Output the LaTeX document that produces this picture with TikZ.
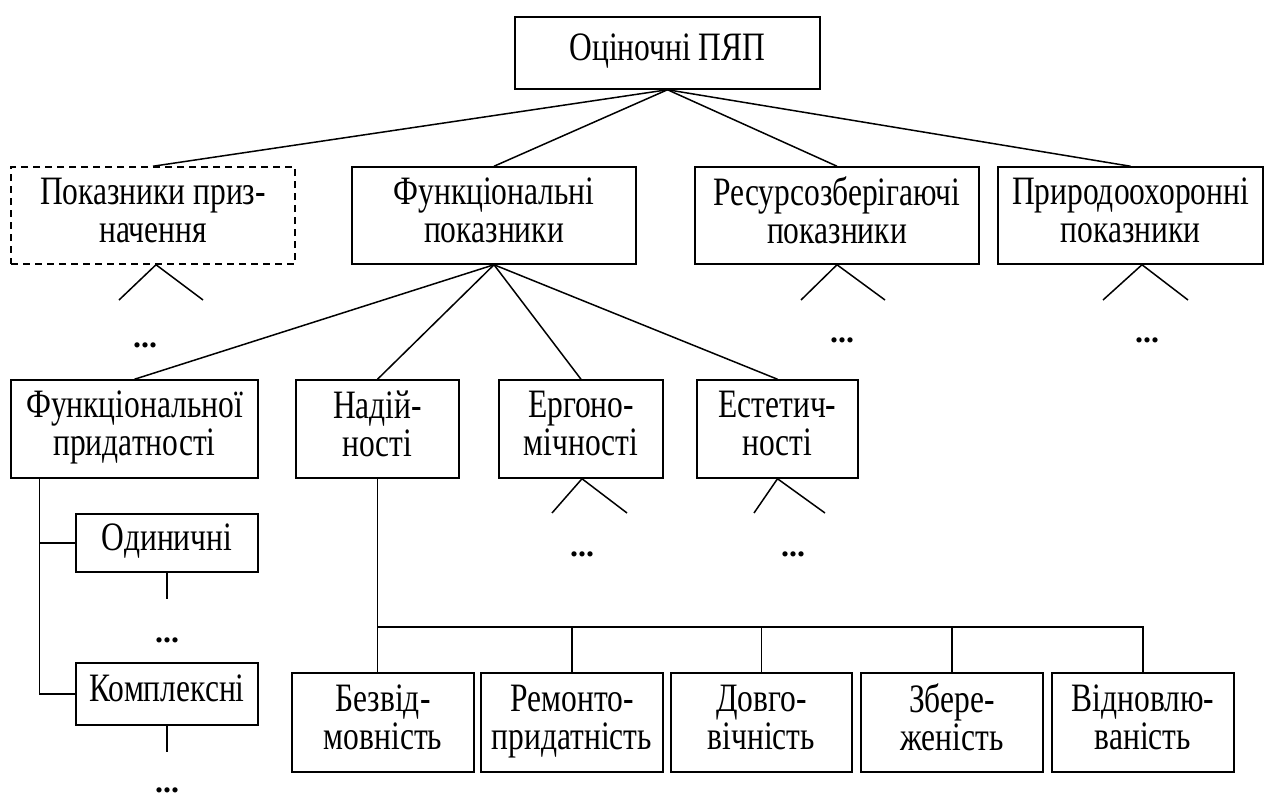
\documentclass[tikz,border=0pt]{standalone}
\usepackage{fontspec}
\usepackage{graphicx}
\setmainfont{Liberation Serif}
\newcommand\lbl[1]{\scalebox{1}[1.28]{\fontsize{31.5}{29.7}\selectfont\begin{tabular}{@{}c@{}}#1\end{tabular}}}
\begin{document}
\begin{tikzpicture}[x=1pt,y=-1pt,
  box/.style={draw,line width=1.5pt,rectangle,inner sep=0pt,align=center},
  dbox/.style={box,dash pattern=on 7pt off 5pt},
  ln/.style={line width=1.5pt},
  dots/.style={font=\fontsize{32}{38}\selectfont\bfseries,inner sep=0pt,anchor=base}]
\useasboundingbox (0,0) rectangle (1274,797);
% level 0
\node[box,minimum width=305pt,minimum height=72pt] (top) at (667.5,53) {\lbl{Оціночні ПЯП}};
% level 1
\node[dbox,minimum width=284pt,minimum height=97pt] (pokazn) at (153,215.5) {\lbl{Показники приз-\\начення}};
\node[box,minimum width=284pt,minimum height=97pt] (funk) at (494,215.5) {\lbl{Функціональні\\показники}};
\node[box,minimum width=284pt,minimum height=97pt] (resurs) at (837,215.5) {\lbl{Ресурсозберігаючі\\показники}};
\node[box,minimum width=265pt,minimum height=97pt] (pryrod) at (1130.5,215.5) {\lbl{Природоохоронні\\показники}};
% level 2
\node[box,minimum width=247pt,minimum height=98pt] (funkpryd) at (134.5,429) {\lbl{Функціональної\\придатності}};
\node[box,minimum width=163pt,minimum height=98pt] (nadiin) at (377.5,429) {\lbl{Надій-\\ності}};
\node[box,minimum width=164pt,minimum height=98pt] (ergono) at (581,429) {\lbl{Ергоно-\\мічності}};
\node[box,minimum width=161pt,minimum height=98pt] (estet) at (777.5,429) {\lbl{Естетич-\\ності}};
% left column
\node[box,minimum width=182pt,minimum height=58pt] (odyn) at (167,543) {\lbl{Одиничні}};
\node[box,minimum width=182pt,minimum height=62pt] (kompl) at (167,694) {\lbl{Комплексні}};
% bottom row
\node[box,minimum width=182pt,minimum height=99pt] (bezvid) at (383,722.5) {\lbl{Безвід-\\мовність}};
\node[box,minimum width=182pt,minimum height=99pt] (remont) at (572,722.5) {\lbl{Ремонто-\\придатність}};
\node[box,minimum width=181pt,minimum height=99pt] (dovho) at (761.5,722.5) {\lbl{Довго-\\вічність}};
\node[box,minimum width=182pt,minimum height=99pt] (zber) at (952,722.5) {\lbl{Збере-\\женість}};
\node[box,minimum width=182pt,minimum height=99pt] (vidn) at (1143,722.5) {\lbl{Відновлю-\\ваність}};
% dots
\node[dots] (d1) at (145,347) {...};
\node[dots] (d2) at (842,342) {...};
\node[dots] (d3) at (1147,342) {...};
\node[dots] (d4) at (582,556) {...};
\node[dots] (d5) at (793,556) {...};
\node[dots] (d6) at (167,642) {...};
\node[dots] (d7) at (167,792) {...};
% free ends
\coordinate (p1) at (119,300); \coordinate (p2) at (203,300);
\coordinate (r1) at (801,300); \coordinate (r2) at (885,300);
\coordinate (q1) at (1103,300); \coordinate (q2) at (1188,300);
\coordinate (e1) at (552,513); \coordinate (e2) at (627,513);
\coordinate (s1) at (754,513); \coordinate (s2) at (825,513);
\coordinate (o1) at (167,599); \coordinate (k1) at (167,752);
\coordinate (bus) at (0,627);
% connectors
\draw[ln] (top.south) -- (pokazn.north);
\draw[ln] (top.south) -- (funk.north);
\draw[ln] (top.south) -- (resurs.north);
\draw[ln] (top.south) -- (pryrod.north);
\draw[ln] (funk.south) -- (funkpryd.north);
\draw[ln] (funk.south) -- (nadiin.north);
\draw[ln] (funk.south) -- (ergono.north);
\draw[ln] (funk.south) -- (estet.north);
\draw[ln] (p1) -- ([xshift=3pt]pokazn.south) -- (p2);
\draw[ln] (r1) -- (resurs.south) -- (r2);
\draw[ln] (q1) -- ([xshift=11.5pt]pryrod.south) -- (q2);
\draw[ln] (e1) -- ([xshift=1pt]ergono.south) -- (e2);
\draw[ln] (s1) -- (estet.south) -- (s2);
\draw[ln] ([xshift=29pt]funkpryd.south west) |- (kompl.west);
\draw[ln] ([xshift=29pt]funkpryd.south west) |- (odyn.west);
\draw[ln] (odyn.south) -- (o1);
\draw[ln] (kompl.south) -- (k1);
\draw[ln] (nadiin.south) -- (nadiin.south |- bezvid.north);
\draw[ln] (nadiin.south |- bus) -| (vidn.north);
\draw[ln] (remont.north) -- (remont.north |- bus);
\draw[ln] (dovho.north) -- (dovho.north |- bus);
\draw[ln] (zber.north) -- (zber.north |- bus);
\end{tikzpicture}
\end{document}
